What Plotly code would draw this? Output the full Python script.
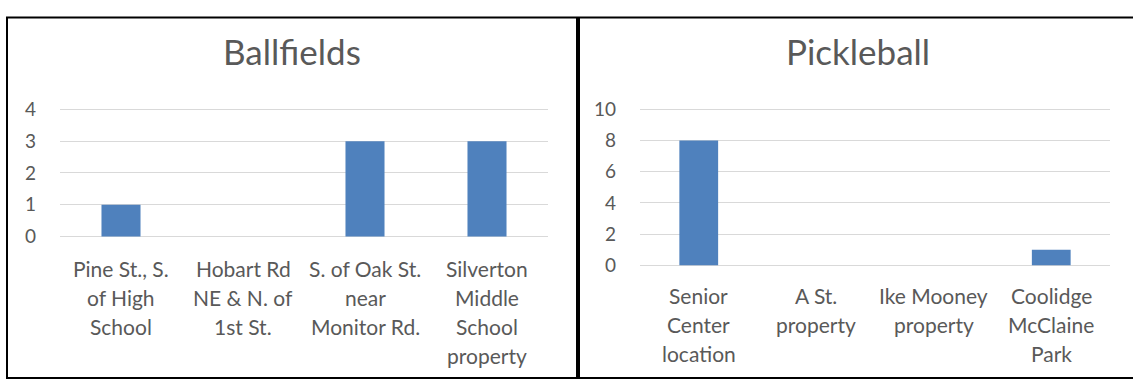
import plotly.graph_objects as go

# ---- data ----
ball_categories = ["Pine St., S.<br>of High<br>School",
                   "Hobart Rd<br>NE & N. of<br>1st St.",
                   "S. of Oak St.<br>near<br>Monitor Rd.",
                   "Silverton<br>Middle<br>School<br>property"]
ball_values = [1, 0, 3, 3]
ball_ticks = [0, 1, 2, 3, 4]

pick_categories = ["Senior<br>Center<br>location",
                   "A St.<br>property",
                   "Ike Mooney<br>property",
                   "Coolidge<br>McClaine<br>Park"]
pick_values = [8, 0, 0, 1]
pick_ticks = [0, 2, 4, 6, 8, 10]

W, H = 1133, 388
TXT = "#595959"
GRID = "#d9d9d9"
BAR = "#4f81bd"
FONT = "Lato"

def px(x):
    return x / W

def py(y):
    return (H - y) / H

fig = go.Figure()
fig.add_trace(go.Bar(x=ball_categories, y=ball_values, marker=dict(color=BAR, line=dict(width=0)),
                     xaxis="x", yaxis="y", width=0.32, hoverinfo="skip"))
fig.add_trace(go.Bar(x=pick_categories, y=pick_values, marker=dict(color=BAR, line=dict(width=0)),
                     xaxis="x2", yaxis="y2", width=0.33, hoverinfo="skip"))

xcommon = dict(showgrid=False, zeroline=False, showline=False, showticklabels=False,
               type="category", fixedrange=True)
ycommon = dict(showgrid=True, gridcolor=GRID, gridwidth=1, zeroline=False, showline=False,
               tickfont=dict(family=FONT, size=19, color=TXT), ticks="", fixedrange=True,
               ticklabelstandoff=23)

annotations = []
for cats, xr, yr, off in [(ball_categories, "x", "y domain", 29), (pick_categories, "x2", "y2 domain", 27)]:
    for c in cats:
        for i, line in enumerate(c.split("<br>")):
            annotations.append(dict(x=c, xref=xr, y=0, yref=yr, text=line, showarrow=False,
                                    yanchor="middle", xanchor="center", yshift=-(off + 29 * i),
                                    font=dict(family=FONT, size=21, color=TXT)))

annotations.append(dict(x=px(292), y=py(44), xref="paper", yref="paper", text="Ballfields",
                        showarrow=False, font=dict(family=FONT, size=35, color=TXT),
                        xanchor="center", yanchor="middle"))
annotations.append(dict(x=px(858), y=py(44), xref="paper", yref="paper", text="Pickleball",
                        showarrow=False, font=dict(family=FONT, size=35, color=TXT),
                        xanchor="center", yanchor="middle"))

shapes = [
    dict(type="rect", xref="paper", yref="paper", x0=px(7), x1=px(577), y0=py(386), y1=py(9),
         line=dict(color="#000000", width=2)),
    dict(type="rect", xref="paper", yref="paper", x0=px(579), x1=px(1140), y0=py(386), y1=py(9),
         line=dict(color="#000000", width=2)),
]

fig.update_layout(
    width=W, height=H, margin=dict(l=0, r=0, t=0, b=0),
    paper_bgcolor="white", plot_bgcolor="white", showlegend=False,
    xaxis=dict(domain=[px(60), px(548)], anchor="y", **xcommon),
    yaxis=dict(domain=[py(241), py(102)], anchor="x", range=[-0.09, 4.09], tickvals=ball_ticks, **ycommon),
    xaxis2=dict(domain=[px(640), px(1110)], anchor="y2", **xcommon),
    yaxis2=dict(domain=[py(271), py(102)], anchor="x2", range=[-0.184, 10.184], tickvals=pick_ticks, **ycommon),
    annotations=annotations, shapes=shapes,
)

fig.write_html("out.html")
